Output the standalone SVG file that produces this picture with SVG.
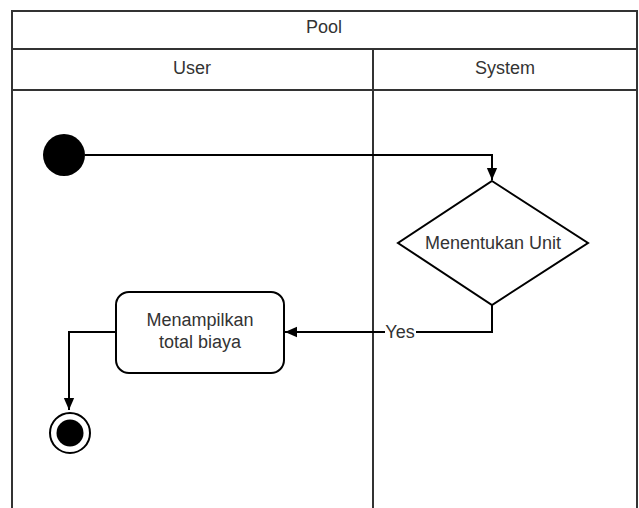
<svg xmlns="http://www.w3.org/2000/svg" width="639" height="508" viewBox="0 0 639 508">
<style>
.lane{fill:none;stroke:#333;stroke-width:2}
.t{font-family:"Liberation Sans",Arial,sans-serif;font-size:18px;fill:#333;text-anchor:middle}
.c{fill:none;stroke:#000;stroke-width:2}
.n{fill:#fff;stroke:#000;stroke-width:2}
</style>
<defs>
<marker id="ah" markerWidth="12" markerHeight="14" viewBox="0 0 14 12" refX="14" refY="6" orient="auto" markerUnits="userSpaceOnUse">
<path d="M0,0 L14,6 L0,12 Z" fill="#000"/>
</marker>
</defs>
<rect width="639" height="508" fill="#fff"/>
<g id="pool">
<path class="lane" d="M12,520 V11 H637 V520 M12,49 H637 M12,90 H637 M373,49 V520"/>
<text class="t" x="324" y="33">Pool</text>
<text class="t" x="192" y="74">User</text>
<text class="t" x="505" y="74">System</text>
</g>
<g id="connectors">
<path class="c" d="M85,155 H492 V180" marker-end="url(#ah)"/>
<path class="c" d="M492,305 V332 H285" marker-end="url(#ah)"/>
<rect x="385" y="322" width="31" height="20" fill="#fff"/>
<text class="t" x="400" y="338">Yes</text>
<path class="c" d="M116,332 H69 V410" marker-end="url(#ah)"/>
</g>
<g id="start">
<circle cx="64" cy="155" r="21" fill="#000"/>
</g>
<g id="decision">
<path class="n" d="M492,181 L588,243 L492,305 L398,243 Z"/>
<text class="t" x="493" y="249">Menentukan Unit</text>
</g>
<g id="action">
<rect class="n" x="116" y="292" width="168" height="81" rx="13"/>
<text class="t" x="200" y="326">Menampilkan</text>
<text class="t" x="200" y="348">total biaya</text>
</g>
<g id="end">
<circle cx="70" cy="433" r="20" fill="#fff" stroke="#000" stroke-width="2"/>
<circle cx="70" cy="433" r="13.5" fill="#000"/>
</g>
</svg>
